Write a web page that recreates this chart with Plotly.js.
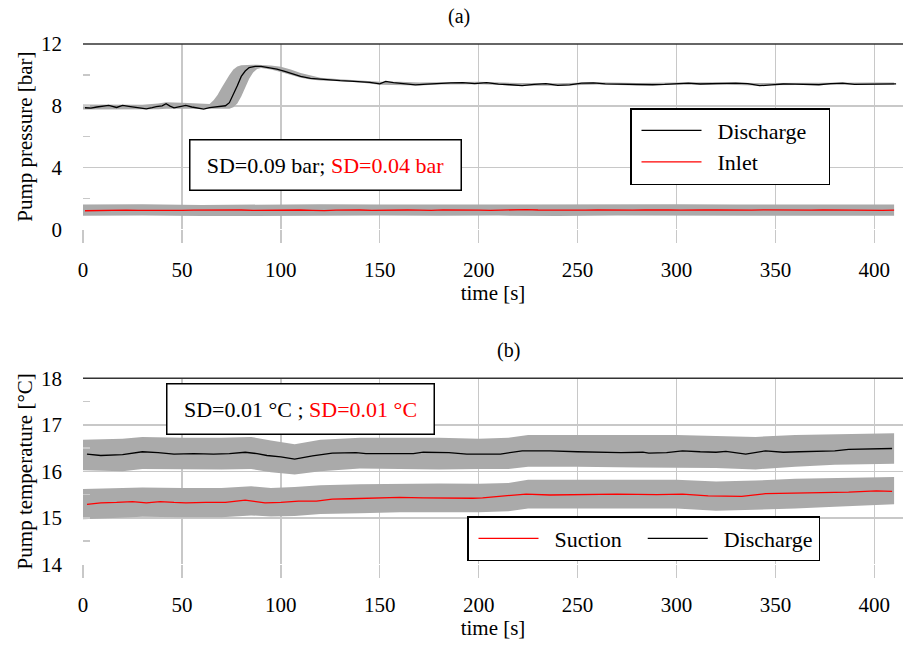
<!DOCTYPE html>
<html>
<head>
<meta charset="utf-8">
<script src="https://cdn.plot.ly/plotly-3.0.1.min.js"></script>
<style>html,body{margin:0;padding:0;background:#fff;}#chart{width:903px;height:645px;}</style>
</head>
<body>
<div id="chart"></div>
<script>
// ---------- (a) Pump pressure ----------
const tDisA = [1,4,7,10,13,17,20,24,27,30,32,35,37,40,42,44,46,49,52,55,58,61,64,67,70,72,74,76,78,80,82,84,87,90,94,98,102,106,110,115,120,125,130,135,140,145,150,153,157,162,168,174,180,186,192,198,204,210,216,222,228,234,240,246,252,258,264,270,276,282,288,294,300,306,312,318,324,330,336,342,348,354,360,366,372,378,384,390,396,402,408,411];
const pDisA = [7.87,7.85,7.92,7.97,8.03,7.89,8.02,7.95,7.91,7.86,7.80,7.88,7.95,8.00,8.13,7.98,7.87,7.95,8.02,7.92,7.85,7.78,7.88,7.93,7.95,8.00,8.20,8.70,9.30,9.90,10.25,10.47,10.55,10.55,10.47,10.38,10.22,10.05,9.90,9.78,9.72,9.68,9.63,9.60,9.57,9.52,9.42,9.58,9.50,9.45,9.35,9.40,9.45,9.48,9.50,9.44,9.50,9.40,9.36,9.31,9.38,9.44,9.32,9.35,9.46,9.48,9.42,9.40,9.36,9.34,9.36,9.38,9.42,9.46,9.41,9.44,9.47,9.46,9.44,9.30,9.35,9.41,9.40,9.38,9.36,9.44,9.46,9.38,9.40,9.43,9.41,9.42];

const tDisBandA = [0,10,20,30,38,42,50,56,60,64,66,68,70,72,74,76,78,80,82,84,86,88,90,95,100,105,110,115,120,130,140,150,160,170,180,200,220,240,260,280,300,320,340,360,380,400,410];
const pDisUpA = [8.08,8.08,8.10,8.06,8.15,8.22,8.20,8.18,8.12,8.12,8.35,8.70,9.15,9.60,10.00,10.35,10.55,10.62,10.64,10.65,10.65,10.65,10.64,10.60,10.52,10.35,10.12,9.95,9.82,9.72,9.65,9.56,9.55,9.50,9.52,9.55,9.48,9.46,9.53,9.47,9.50,9.52,9.48,9.50,9.52,9.50,9.50];
const pDisLoA = [7.76,7.76,7.78,7.75,7.78,7.80,7.80,7.78,7.76,7.76,7.76,7.76,7.77,7.78,7.80,7.90,8.15,8.60,9.20,9.75,10.15,10.38,10.45,10.35,10.18,9.98,9.82,9.70,9.64,9.58,9.50,9.36,9.36,9.32,9.38,9.40,9.30,9.30,9.38,9.32,9.36,9.38,9.32,9.35,9.36,9.36,9.36];

const tInA = [1,6,12,17,22,28,34,40,46,50,56,62,68,74,80,86,92,98,104,110,116,122,128,134,140,146,152,158,164,170,176,182,188,194,200,206,212,218,224,230,236,242,248,254,260,266,272,278,284,290,296,302,308,314,320,326,332,338,344,350,356,362,368,374,380,386,392,398,404,410];
const pInA = [1.20,1.21,1.26,1.27,1.24,1.23,1.22,1.24,1.21,1.22,1.24,1.25,1.23,1.24,1.25,1.22,1.23,1.27,1.24,1.25,1.23,1.21,1.24,1.26,1.25,1.23,1.24,1.27,1.25,1.24,1.22,1.26,1.24,1.25,1.24,1.23,1.25,1.24,1.27,1.25,1.24,1.23,1.25,1.24,1.26,1.25,1.23,1.24,1.26,1.27,1.25,1.24,1.23,1.25,1.26,1.24,1.22,1.24,1.26,1.25,1.24,1.23,1.24,1.26,1.25,1.23,1.24,1.25,1.23,1.24];

const tInBandA = [0,30,60,90,120,150,180,210,240,270,300,330,360,390,410];
const pInUpA = [1.60,1.62,1.58,1.61,1.62,1.60,1.61,1.63,1.60,1.61,1.62,1.60,1.62,1.61,1.61];
const pInLoA = [0.88,0.90,0.86,0.89,0.88,0.90,0.87,0.89,0.86,0.90,0.88,0.89,0.87,0.88,0.88];

// ---------- (b) Pump temperature ----------
const tDisB = [2,9,20,30,38,46,56,66,74,82,88,93,100,107,116,126,138,143,155,167,172,185,194,211,222,236,250,261,272,283,286,295,303,312,320,325,335,345,354,362,370,380,387,397,409];
const TDisB = [16.37,16.34,16.36,16.42,16.40,16.37,16.38,16.37,16.38,16.41,16.38,16.34,16.31,16.26,16.33,16.39,16.40,16.38,16.38,16.38,16.41,16.40,16.37,16.37,16.44,16.44,16.42,16.41,16.40,16.41,16.39,16.40,16.44,16.42,16.41,16.43,16.37,16.44,16.41,16.42,16.43,16.44,16.47,16.48,16.49];

const tSucB = [2,9,17,25,32,39,46,52,62,72,82,92,100,109,118,126,135,143,152,160,172,185,197,202,212,224,236,250,270,290,303,316,333,345,358,370,387,401,409];
const TSucB = [15.29,15.32,15.33,15.35,15.32,15.35,15.33,15.32,15.33,15.33,15.38,15.32,15.33,15.36,15.36,15.40,15.41,15.42,15.42,15.44,15.43,15.42,15.42,15.43,15.46,15.51,15.49,15.50,15.51,15.50,15.51,15.47,15.46,15.52,15.53,15.54,15.55,15.58,15.57];

const tBandB = [0,20,30,50,70,85,95,107,120,140,160,180,200,215,225,250,280,300,320,340,360,380,400,410];
const TDisUpB = [16.68,16.70,16.74,16.72,16.72,16.74,16.66,16.58,16.68,16.72,16.72,16.72,16.70,16.72,16.78,16.78,16.77,16.78,16.76,16.74,16.78,16.80,16.82,16.82];
const TDisLoB = [16.02,16.00,16.05,16.04,16.04,16.05,15.98,15.93,16.00,16.06,16.05,16.04,16.05,16.05,16.10,16.10,16.08,16.08,16.07,16.04,16.10,16.14,16.16,16.16];
const TSucUpB = [15.62,15.63,15.65,15.64,15.64,15.68,15.64,15.66,15.70,15.72,15.73,15.74,15.73,15.75,15.82,15.82,15.82,15.82,15.78,15.80,15.84,15.86,15.88,15.88];
const TSucLoB = [14.97,15.00,15.02,15.01,15.01,15.05,15.03,15.04,15.08,15.10,15.12,15.12,15.12,15.14,15.20,15.20,15.20,15.20,15.15,15.17,15.20,15.24,15.27,15.29];

const xTicks = [0,50,100,150,200,250,300,350,400];
const yTicksA = [0,4,8,12];
const yTicksB = [14,15,16,17,18];

// ---------- styling ----------
const FONT = '"Liberation Serif", "DejaVu Serif", "Times New Roman", Times, serif';
const GRID = '#c8c8c8';
const BAND = '#aaaaaa';
const W = 903, H = 645;
const NB = '\u00a0';

function band(x, lo, up, xa, ya) {
  return [
    {x: x, y: lo, xaxis: xa, yaxis: ya, type: 'scatter', mode: 'lines', line: {width: 0, color: BAND}, showlegend: false, hoverinfo: 'skip'},
    {x: x, y: up, xaxis: xa, yaxis: ya, type: 'scatter', mode: 'lines', line: {width: 0, color: BAND}, fill: 'tonexty', fillcolor: BAND, showlegend: false, hoverinfo: 'skip'}
  ];
}

const data = [].concat(
  band(tDisBandA, pDisLoA, pDisUpA, 'x', 'y'),
  band(tInBandA, pInLoA, pInUpA, 'x', 'y'),
  [
    {x: tDisA, y: pDisA, xaxis: 'x', yaxis: 'y', type: 'scatter', mode: 'lines', name: 'Discharge' + NB + NB + NB, line: {color: '#000000', width: 1.3}, legend: 'legend'},
    {x: tInA, y: pInA, xaxis: 'x', yaxis: 'y', type: 'scatter', mode: 'lines', name: 'Inlet', line: {color: '#ff0000', width: 1.3}, legend: 'legend'}
  ],
  band(tBandB, TDisLoB, TDisUpB, 'x2', 'y2'),
  band(tBandB, TSucLoB, TSucUpB, 'x2', 'y2'),
  [
    {x: tSucB, y: TSucB, xaxis: 'x2', yaxis: 'y2', type: 'scatter', mode: 'lines', name: 'Suction' + NB + NB, line: {color: '#ff0000', width: 1.3}, legend: 'legend2'},
    {x: tDisB, y: TDisB, xaxis: 'x2', yaxis: 'y2', type: 'scatter', mode: 'lines', name: 'Discharge', line: {color: '#000000', width: 1.3}, legend: 'legend2'}
  ]
);

function xAxis(anchor) {
  return {
    anchor: anchor, domain: [83 / W, 1], range: [0, 414.5],
    tickmode: 'array', tickvals: xTicks, ticktext: xTicks.map(String),
    showgrid: true, gridcolor: GRID, gridwidth: 1.5, zeroline: false, showline: false,
    ticks: 'outside', ticklen: 13, tickwidth: 1.5, tickcolor: GRID,
    tickfont: {family: FONT, size: 21, color: '#000'}, ticklabelstandoff: 8,
    title: {text: 'time [s]', font: {family: FONT, size: 21, color: '#000'}, standoff: 2},
    automargin: false, fixedrange: true
  };
}
function yAxis(anchor, dom, range, vals, minorStep, title) {
  return {
    anchor: anchor, domain: dom, range: range,
    tickmode: 'array', tickvals: vals, ticktext: vals.map(String),
    showgrid: true, gridcolor: GRID, gridwidth: 1.5, zeroline: false, showline: false,
    ticks: 'inside', ticklen: 7, tickwidth: 1.5, tickcolor: GRID,
    minor: {dtick: minorStep, tick0: range[0], ticks: 'inside', ticklen: 7, tickwidth: 1.5, tickcolor: GRID, showgrid: false},
    tickfont: {family: FONT, size: 21, color: '#000'}, ticklabelstandoff: 20,
    title: {text: title, font: {family: FONT, size: 21, color: '#000'}, standoff: 2},
    automargin: false, fixedrange: true
  };
}

const layout = {
  width: W, height: H,
  margin: {l: 0, r: 0, t: 0, b: 0, autoexpand: false},
  paper_bgcolor: '#ffffff', plot_bgcolor: '#ffffff',
  font: {family: FONT, size: 21, color: '#000'},
  xaxis: xAxis('y'),
  yaxis: yAxis('x', [1 - 229.3 / H, 1 - 44 / H], [0, 12], yTicksA, 2, 'Pump pressure [bar]'),
  xaxis2: xAxis('y2'),
  yaxis2: yAxis('x2', [1 - 564.3 / H, 1 - 378.3 / H], [14, 18], yTicksB, 0.5, 'Pump temperature [°C]'),
  legend: {
    x: 630 / W, y: 1 - 108 / H, xanchor: 'left', yanchor: 'top', traceorder: 'normal',
    bgcolor: '#ffffff', bordercolor: '#000', borderwidth: 1.5,
    font: {family: FONT, size: 22, color: '#000'}, itemwidth: 76, tracegroupgap: 0
  },
  legend2: {
    x: 467 / W, y: 1 - 516 / H, xanchor: 'left', yanchor: 'top', orientation: 'h', traceorder: 'normal',
    bgcolor: '#ffffff', bordercolor: '#000', borderwidth: 1.5,
    font: {family: FONT, size: 22, color: '#000'}, itemwidth: 76
  },
  shapes: [
    {type: 'line', xref: 'x domain', yref: 'y domain', x0: 0, x1: 1, y0: 1, y1: 1, line: {color: '#333', width: 1.5}},
    {type: 'line', xref: 'x2 domain', yref: 'y2 domain', x0: 0, x1: 1, y0: 1, y1: 1, line: {color: '#333', width: 1.5}}
  ],
  annotations: [
    {text: '(a)', xref: 'paper', yref: 'paper', x: 459 / W, y: 1 - 16 / H, xanchor: 'center', yanchor: 'middle', showarrow: false, font: {family: FONT, size: 20, color: '#000'}},
    {text: '(b)', xref: 'paper', yref: 'paper', x: 508 / W, y: 1 - 350 / H, xanchor: 'center', yanchor: 'middle', showarrow: false, font: {family: FONT, size: 20, color: '#000'}},
    {text: 'SD=0.09 bar; <span style="color:#ff0000">SD=0.04 bar</span>', xref: 'paper', yref: 'paper', x: 325.6 / W, y: 1 - 165 / H, xanchor: 'center', yanchor: 'middle', showarrow: false,
     font: {family: FONT, size: 22, color: '#000'}, bordercolor: '#000', borderwidth: 1.5, borderpad: 12, bgcolor: '#ffffff', width: 246, height: 25},
    {text: 'SD=0.01 °C ; <span style="color:#ff0000">SD=0.01 °C</span>', xref: 'paper', yref: 'paper', x: 300.7 / W, y: 1 - 408.5 / H, xanchor: 'center', yanchor: 'middle', showarrow: false,
     font: {family: FONT, size: 22, color: '#000'}, bordercolor: '#000', borderwidth: 1.5, borderpad: 12, bgcolor: '#ffffff', width: 242, height: 25}
  ],
  showlegend: true
};

Plotly.newPlot('chart', data, layout, {displayModeBar: false, staticPlot: true}).then(function () {
  // lengthen the legend sample lines to match the reference legend keys
  document.querySelectorAll('#chart .legendlines path').forEach(function (p) {
    p.setAttribute('d', 'M10,0h60');
  });
});
</script>
</body>
</html>
